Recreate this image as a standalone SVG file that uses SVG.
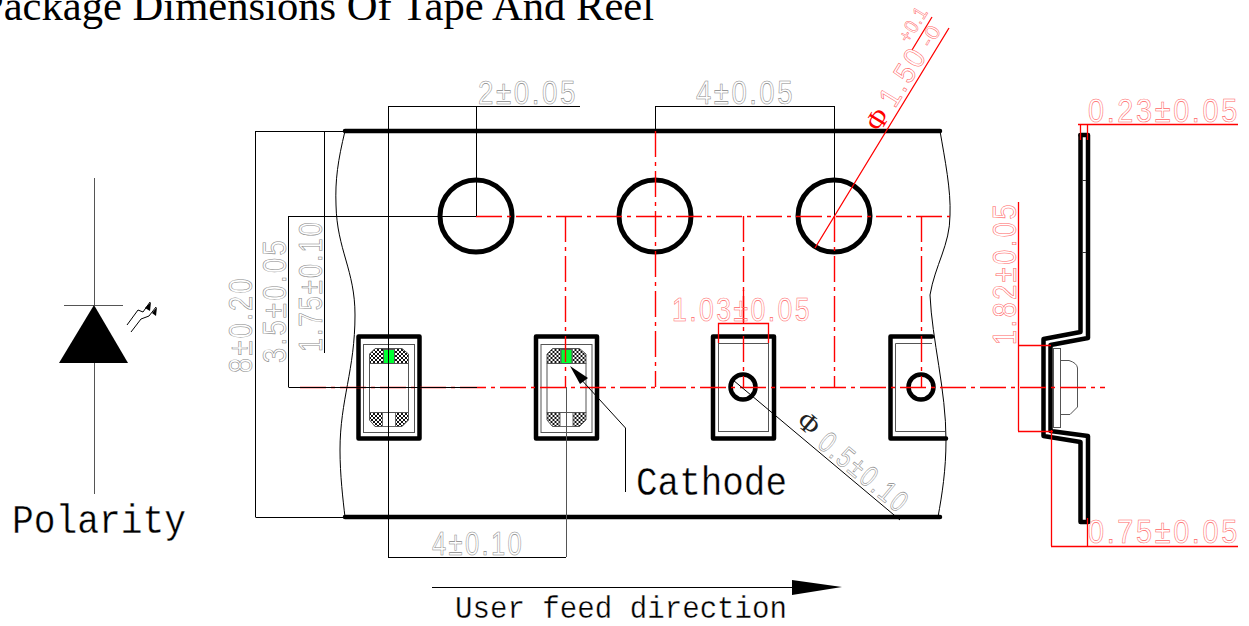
<svg xmlns="http://www.w3.org/2000/svg" xmlns:xlink="http://www.w3.org/1999/xlink" width="1249" height="626" viewBox="0 0 1249 626">
<style>
.thick{fill:none;stroke:#000;stroke-width:4.5;stroke-linejoin:round;stroke-linecap:round}
.thin{fill:none;stroke:#000;stroke-width:1}
.grey{fill:none;stroke:#555;stroke-width:1}
.red{fill:none;stroke:#f00;stroke-width:1.300}
.cl{fill:none;stroke:#f00;stroke-width:1.400;stroke-dasharray:26 5 4 5}
.dg{font-family:"Liberation Sans",sans-serif;font-size:33px;letter-spacing:3px;fill:none;stroke:#888;stroke-width:.6}
.dr{font-family:"Liberation Sans",sans-serif;font-size:33px;letter-spacing:3px;fill:none;stroke:#f66;stroke-width:.6}
.sm{font-size:20px;letter-spacing:1px;stroke-width:.5}
.mono{font-family:"Liberation Mono",monospace;fill:#000;stroke:#fff;stroke-width:.35}
.phi{font-family:"Liberation Serif",serif;font-size:28px}
</style>
<defs>
<pattern id="hatch" width="4" height="4" patternUnits="userSpaceOnUse">
<rect width="4" height="4" fill="#fff"/>
<path d="M0 0L4 4M4 0L0 4" stroke="#111" stroke-width="1"/>
</pattern>
<g id="chip">
<path d="M369.500 363.500V354L375 348.500H402L408.500 354V363.500Z" fill="url(#hatch)" stroke="#555"/>
<path d="M369.500 412.500V420L375 426.500H402L408.500 420V412.500Z" fill="url(#hatch)" stroke="#555"/>
<rect x="382.500" y="412.500" width="13" height="14" fill="#fff" stroke="#666"/>
<rect x="369.500" y="363.500" width="39" height="49" fill="#fff" stroke="#555"/>
<rect x="383.500" y="349.500" width="11" height="14" fill="#0f3" stroke="#555"/>
</g>
</defs>
<text x="-20" y="20" font-family="Liberation Serif,serif" font-size="42.600" fill="#000">Package Dimensions Of Tape And Reel</text>

<g id="tape">
<path class="thick" d="M345 131H940M345 517H940"/>
<path class="thin" d="M345 131C338 160 335 180 336 205C337 250 355 270 355 315C355 370 340 400 340 450C340 475 343 500 345 517"/>
<path class="thin" d="M940 131C945 160 951 190 950 215C950 245 935 265 930 295C932 340 946 390 946 440C946 470 942 495 938 517"/>
</g>
<g id="sprocket-holes">
<circle cx="476" cy="216" r="36" fill="none" stroke="#000" stroke-width="5"/>
<circle cx="655" cy="216" r="36" fill="none" stroke="#000" stroke-width="5"/>
<circle cx="834" cy="216" r="36" fill="none" stroke="#000" stroke-width="5"/>
</g>
<g id="pocket-1">
<rect class="thick" x="358.500" y="336.500" width="61" height="102"/>
<rect class="grey" x="363.500" y="344.500" width="51" height="88"/>
<use xlink:href="#chip"/>
</g>
<g id="pocket-2">
<rect class="thick" x="536" y="336.500" width="61" height="102"/>
<rect class="grey" x="541" y="344.500" width="51" height="88"/>
<use xlink:href="#chip" x="177.500"/>
</g>
<g id="pocket-3">
<rect class="thick" x="713" y="336.500" width="61" height="102"/>
<rect class="grey" x="718.500" y="343.500" width="50" height="88"/>
<circle cx="743" cy="387" r="12.500" fill="none" stroke="#000" stroke-width="4.500"/>
</g>
<g id="pocket-4">
<path class="thick" d="M932 336.500H890.500V438.500H946"/>
<path class="grey" d="M932 343.500H895.500V431.500H945"/>
<circle cx="921" cy="387" r="12.500" fill="none" stroke="#000" stroke-width="4.500"/>
</g>
<g id="side-profile">
<path class="thick" d="M1080.500 135V332L1043.500 339V436L1080.500 442V522H1088"/>
<path class="thick" d="M1080.500 135H1088V338L1050.500 345V431L1088 436V522"/>
<path d="M1082 180.500H1086M1082 252.500H1086" stroke="#333"/>
<rect x="1053.500" y="348.500" width="7" height="79" fill="#fff" stroke="#555"/>
<path class="grey" d="M1060 360.500H1069Q1077 363 1077.500 368V407L1070 414.500H1060"/>
</g>
<g id="diode">
<path class="grey" d="M94.500 178V305M94.500 363V494M64 305.500H123"/>
<polygon points="94,305 59,363 128,363" fill="#000"/>
<path class="thin" d="M127 325L138 310L143 312L150 302M131 332L141 319L149 316L156 307"/>
<polygon points="145,308 151,302 150,311" fill="#000"/>
<polygon points="152,313 157,307 156,316" fill="#000"/>
</g>

<g id="connectors">
<g id="centerlines">
<path class="cl" d="M476 216.500H950"/>
<path class="cl" d="M300 387.500H1105"/>
<path class="cl" d="M565.500 216V387"/>
<path class="cl" d="M655.500 131V387"/>
<path class="cl" d="M743.500 216V387"/>
<path class="cl" d="M834.500 216V387"/>
<path class="cl" d="M921.500 216V387"/>
</g>
<g id="dims-black">
<path class="thin" d="M255.500 131.500H345M255.500 517.500H345M255.500 131V517"/>
<path class="thin" d="M288.500 216.500H476M288.500 387.500H477M288.500 216V387"/>
<path class="thin" d="M324.500 131V353"/>
<path class="thin" d="M388.500 106V557M388 106.500H580M476.500 106V216"/>
<path class="thin" d="M655 106.500H835M655.500 106V131M834.500 106V216"/>
<path class="thin" d="M388 557.500H566"/>
<path class="grey" d="M566.500 387V557"/>
<path class="thin" d="M733 380L900 520"/>
<path class="thin" d="M578 376L625.500 428V492"/>
<polygon points="570,366 588,378 580,384" fill="#000"/>
<path class="thin" d="M432 587.500H800"/>
<polygon points="792,580 842,587 792,595" fill="#000"/>
</g>
<g id="dims-red">
<path class="red" d="M815 248L949 28M912 50L932 17"/>
<path class="red" d="M1078 124.500H1238M1080.500 124V140M1087.500 124V140"/>
<path class="red" d="M1018.500 202V431M1018 345.500H1051M1018 431.500H1053"/>
<path class="red" d="M1051.500 430V546M1087.500 518V546M1051 546.500H1238"/>
<path class="red" d="M718.500 343V323.500H768.500V343"/>
<path class="red" d="M743.500 290V323"/>
</g>
</g>

<g id="labels">
<text class="dg" x="478" y="104" textLength="100" lengthAdjust="spacingAndGlyphs">2±0.05</text>
<text class="dg" x="696" y="104" textLength="99" lengthAdjust="spacingAndGlyphs">4±0.05</text>
<text class="dg" x="432" y="555" textLength="92" lengthAdjust="spacingAndGlyphs">4±0.10</text>
<text class="dg" transform="translate(252 373) rotate(-90)" textLength="97" lengthAdjust="spacingAndGlyphs">8±0.20</text>
<text class="dg" transform="translate(286 363) rotate(-90)" textLength="125" lengthAdjust="spacingAndGlyphs">3.5±0.05</text>
<text class="dg" transform="translate(322 352) rotate(-90)" textLength="132" lengthAdjust="spacingAndGlyphs">1.75±0.10</text>
<text class="dr" transform="translate(1088 122) scale(.875 1)">0.23±0.05</text>
<text class="dr" transform="translate(1088 543) scale(.875 1)">0.75±0.05</text>
<text class="dr" x="672" y="321" textLength="140" lengthAdjust="spacingAndGlyphs">1.03±0.05</text>
<text class="dr" transform="translate(1016 345) rotate(-90)" textLength="143" lengthAdjust="spacingAndGlyphs">1.82±0.05</text>
<text class="phi" fill="#f00" transform="translate(880 133) rotate(-58.600)">Φ</text>
<text class="dr" style="font-size:30px" transform="translate(895 109) rotate(-58.600)" textLength="64" lengthAdjust="spacingAndGlyphs">1.50</text>
<text class="dr sm" transform="translate(909 44) rotate(-58.600)" textLength="38" lengthAdjust="spacingAndGlyphs">+0.1</text>
<text class="dr sm" transform="translate(930.500 48.500) rotate(-58.600)" textLength="22" lengthAdjust="spacingAndGlyphs">-0</text>
<text class="phi" fill="#222" transform="translate(795 424) rotate(39.600)">Φ</text>
<text class="dg" style="font-size:30px" transform="translate(816 446) rotate(39.600)" textLength="108" lengthAdjust="spacingAndGlyphs">0.5±0.10</text>
<text class="mono" x="636" y="495" font-size="40" textLength="151" lengthAdjust="spacingAndGlyphs">Cathode</text>
<text class="mono" x="12" y="533" font-size="40" textLength="174" lengthAdjust="spacingAndGlyphs">Polarity</text>
<text class="mono" x="455" y="618" font-size="32" textLength="332" lengthAdjust="spacingAndGlyphs">User feed direction</text>
</g>
</svg>
